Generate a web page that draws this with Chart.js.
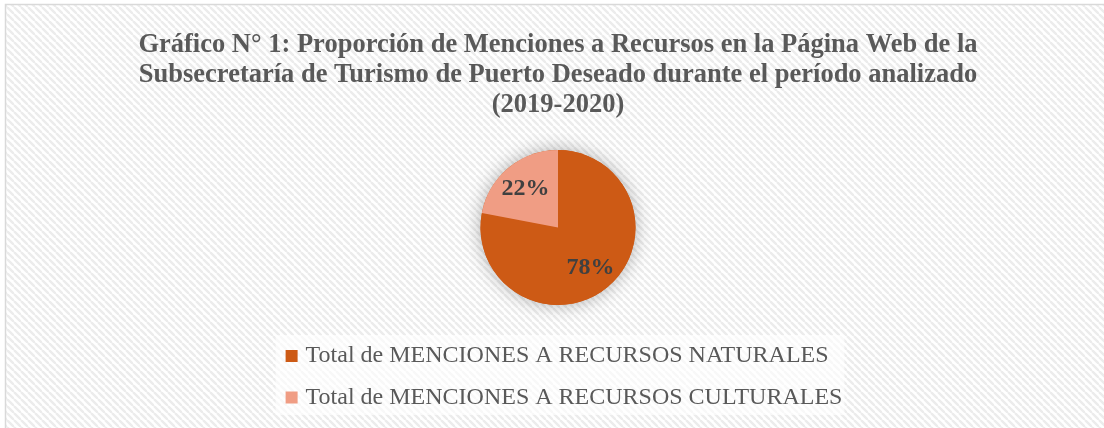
<!DOCTYPE html>
<html>
<head>
<meta charset="utf-8">
<script src="https://cdn.jsdelivr.net/npm/chart.js@4/dist/chart.umd.min.js"></script>
<style>
  html, body { margin: 0; padding: 0; background: #ffffff; }
  #wrap { width: 1104px; height: 428px; position: relative; }
</style>
</head>
<body>
<div id="wrap"><canvas id="c" width="1104" height="428"></canvas></div>
<script>
const titleLines = [
  'Gráfico N° 1: Proporción de Menciones a Recursos en la Página Web de la',
  'Subsecretaría de Turismo de Puerto Deseado durante el período analizado',
  '(2019-2020)'
];
const categories = [
  'Total de MENCIONES A RECURSOS NATURALES',
  'Total de MENCIONES A RECURSOS CULTURALES'
];
const values = [78, 22];
const sliceColors = ['#CD5A15', '#F09D84'];

const SERIF = "'Liberation Serif', 'Times New Roman', serif";

function makeHatch() {
  const s = 7;
  const c = document.createElement('canvas');
  c.width = s; c.height = s;
  const g = c.getContext('2d');
  g.fillStyle = '#ffffff';
  g.fillRect(0, 0, s, s);
  g.strokeStyle = '#ececec';
  g.lineWidth = 2.4;
  for (const k of [-s, 0, s]) {
    g.beginPath();
    g.moveTo(k, 0);
    g.lineTo(k + s, s);
    g.stroke();
  }
  return c;
}

// legend geometry (style only)
const LEG = { font: "24px " + SERIF, box: 12, gap: 8, row1: 356, pitch: 41.5, shift: 6 };

function legendLayout(chart) {
  const ctx = chart.ctx;
  ctx.save();
  ctx.font = LEG.font;
  const widths = chart.data.labels.map(t => ctx.measureText(t).width);
  ctx.restore();
  const blockW = LEG.box + LEG.gap + Math.max(...widths);
  const cx = (chart.chartArea.left + chart.chartArea.right) / 2;
  const left = cx - blockW / 2 + LEG.shift;
  return { left, blockW, widths };
}

const bgPlugin = {
  id: 'bgPlugin',
  beforeDraw(chart) {
    const ctx = chart.ctx;
    const W = chart.width, H = chart.height;
    ctx.save();
    ctx.fillStyle = '#ffffff';
    ctx.fillRect(0, 0, W, H);
    const pat = ctx.createPattern(makeHatch(), 'repeat');
    ctx.fillStyle = pat;
    ctx.fillRect(6, 5, W - 6, H - 5);
    ctx.strokeStyle = '#d9d9d9';
    ctx.lineWidth = 1.5;
    ctx.beginPath();
    ctx.moveTo(5.5, H);
    ctx.lineTo(5.5, 4.5);
    ctx.lineTo(W, 4.5);
    ctx.stroke();
    // legend backdrop
    const L = legendLayout(chart);
    const n = chart.data.labels.length;
    ctx.fillStyle = 'rgba(255,255,255,0.65)';
    const top = LEG.row1 - 21;
    const bottom = LEG.row1 + (n - 1) * LEG.pitch + 17.5;
    ctx.fillRect(L.left - 10, top, L.blockW + 12, bottom - top);
    ctx.restore();
  }
};

const shadowPlugin = {
  id: 'shadowPlugin',
  beforeDatasetsDraw(chart) {
    const meta = chart.getDatasetMeta(0);
    if (!meta.data.length) return;
    const a = meta.data[0];
    const ctx = chart.ctx;
    ctx.save();
    ctx.shadowColor = 'rgba(0,0,0,0.30)';
    ctx.shadowBlur = 18;
    ctx.fillStyle = sliceColors[0];
    ctx.beginPath();
    ctx.arc(a.x, a.y, a.outerRadius, 0, Math.PI * 2);
    ctx.fill();
    ctx.restore();
  }
};

const labelPlugin = {
  id: 'labelPlugin',
  afterDatasetsDraw(chart) {
    const meta = chart.getDatasetMeta(0);
    const data = chart.data.datasets[0].data;
    const total = data.reduce((s, v) => s + v, 0);
    const ctx = chart.ctx;
    ctx.save();
    ctx.font = "bold 24px " + SERIF;
    ctx.fillStyle = '#404040';
    ctx.textAlign = 'center';
    ctx.textBaseline = 'middle';
    meta.data.forEach((arc, i) => {
      const p = arc.getProps(['x', 'y', 'startAngle', 'endAngle', 'outerRadius'], true);
      const mid = (p.startAngle + p.endAngle) / 2;
      const r = p.outerRadius * 0.66;
      const txt = Math.round(data[i] / total * 100) + '%';
      ctx.fillText(txt, p.x + Math.cos(mid) * r, p.y + Math.sin(mid) * r + 1);
    });
    ctx.restore();
  }
};

const legendPlugin = {
  id: 'legendPlugin',
  afterDraw(chart) {
    const ctx = chart.ctx;
    const L = legendLayout(chart);
    const colors = chart.data.datasets[0].backgroundColor;
    ctx.save();
    ctx.font = LEG.font;
    ctx.textAlign = 'left';
    ctx.textBaseline = 'middle';
    chart.data.labels.forEach((t, i) => {
      const cy = LEG.row1 + i * LEG.pitch;
      ctx.fillStyle = colors[i];
      ctx.fillRect(L.left, cy - LEG.box / 2, LEG.box, LEG.box);
      ctx.fillStyle = '#595959';
      ctx.fillText(t, L.left + LEG.box + LEG.gap, cy);
    });
    ctx.restore();
  }
};

new Chart(document.getElementById('c'), {
  type: 'pie',
  data: {
    labels: categories,
    datasets: [{
      data: values,
      backgroundColor: sliceColors,
      borderWidth: 0,
      radius: 77.5,
      hoverOffset: 0
    }]
  },
  plugins: [bgPlugin, shadowPlugin, labelPlugin, legendPlugin],
  options: {
    responsive: false,
    animation: false,
    events: [],
    layout: { padding: { left: 12, right: 0, top: 0, bottom: 101.5 } },
    plugins: {
      tooltip: { enabled: false },
      legend: { display: false },
      title: {
        display: true,
        text: titleLines,
        color: '#595959',
        font: { family: SERIF, size: 26.5, weight: 'bold', lineHeight: 30 / 26.5 },
        padding: { top: 30.5, bottom: 8 }
      }
    }
  }
});
</script>
</body>
</html>
